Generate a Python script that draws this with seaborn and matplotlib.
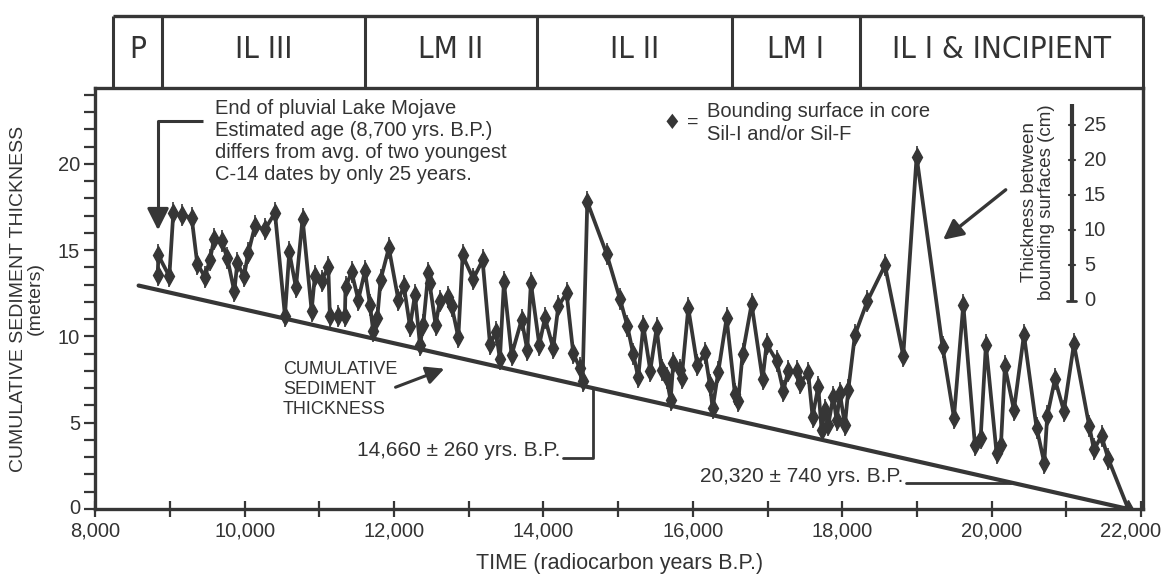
import numpy as np
import pandas as pd
import matplotlib
matplotlib.use("Agg")
import matplotlib.pyplot as plt
import seaborn as sns
from matplotlib.ticker import MultipleLocator, FuncFormatter
import matplotlib.transforms as mtransforms

# ---------------- data ----------------
years = [8835, 8845, 8991, 9044, 9156, 9290, 9365, 9468, 9535, 9589, 9691, 9767, 9861, 9901, 9990,
         10048, 10137, 10271, 10405, 10539, 10597, 10686, 10775, 10896, 10940, 11030, 11119, 11141,
         11244, 11342, 11350, 11431, 11521, 11610, 11677, 11721, 11775, 11820, 11930, 12057, 12132,
         12213, 12280, 12347, 12391, 12458, 12475, 12556, 12614, 12726, 12770, 12860, 12918, 13060,
         13185, 13284, 13364, 13417, 13471, 13574, 13708, 13783, 13832, 13944, 14020, 14131, 14198,
         14310, 14399, 14488, 14524, 14587, 14845, 15024, 15122, 15202, 15269, 15337, 15430, 15515,
         15582, 15649, 15702, 15738, 15827, 15850, 15939, 16059, 16162, 16229, 16265, 16341, 16452,
         16564, 16608, 16666, 16787, 16934, 16988, 17121, 17211, 17278, 17389, 17434, 17545, 17603,
         17679, 17724, 17768, 17813, 17880, 17925, 17969, 18036, 18081, 18170, 18335, 18572, 18817,
         18996, 19344, 19496, 19621, 19777, 19853, 19924, 20067, 20125, 20178, 20299, 20433, 20602,
         20705, 20745, 20848, 20968, 21102, 21307, 21370, 21472, 21562, 21830]
thickness = [13.54, 14.70, 13.48, 17.13, 17.03, 16.89, 14.22, 13.44, 14.45, 15.62, 15.52, 14.55, 12.61,
             14.26, 13.48, 14.84, 16.39, 16.20, 17.17, 11.21, 14.89, 12.85, 16.83, 11.50, 13.53, 13.24,
             14.02, 11.21, 11.21, 11.21, 12.85, 13.73, 12.13, 13.78, 11.84, 10.29, 11.06, 13.29, 15.13,
             12.13, 12.90, 10.58, 12.42, 9.51, 10.68, 13.68, 13.10, 10.68, 12.08, 12.28, 11.79, 9.95,
             14.70, 13.34, 14.41, 9.56, 10.24, 8.69, 13.15, 8.93, 10.97, 9.23, 13.10, 9.52, 11.07, 9.32,
             11.74, 12.52, 9.03, 8.16, 7.43, 17.80, 14.80, 12.18, 10.63, 8.98, 7.63, 10.63, 8.02, 10.48,
             8.06, 7.57, 6.31, 8.44, 8.06, 7.57, 11.64, 8.35, 9.02, 7.18, 5.83, 7.96, 11.06, 6.65, 6.26,
             8.98, 11.88, 7.52, 9.56, 8.59, 6.85, 8.01, 8.01, 7.33, 7.87, 5.35, 7.09, 4.57, 5.73, 4.86,
             6.51, 5.15, 6.70, 4.86, 6.90, 10.09, 12.03, 14.12, 8.88, 20.42, 9.37, 5.30, 11.84, 3.70,
             4.09, 9.52, 3.22, 3.70, 8.26, 5.74, 10.10, 4.71, 2.68, 5.39, 7.52, 5.68, 9.56, 4.81, 3.45,
             4.23, 2.91, 0.0]

cum_years = [8580, 21830]
cum_thickness = [12.95, 0.0]

stage_names = ["P", "IL III", "LM II", "IL II", "LM I", "IL I & INCIPIENT"]
stage_edges = [8240, 8890, 11610, 13910, 16520, 18240, 22027]

scale_ticks_cm = [0, 5, 10, 15, 20, 25]

# ---------------- style ----------------
sns.set_theme(style="white")
plt.rcParams['font.family'] = ['Liberation Sans', 'DejaVu Sans']
INK = '#363636'
TXT = '#333333'

W, H = 1169, 580
fig = plt.figure(figsize=(W / 100, H / 100), dpi=100)
fig.patch.set_facecolor('white')

x0, x1 = 95.3, 1143
y_bot, y_top = 509, 88
ax = fig.add_axes([x0 / W, 1 - y_bot / H, (x1 - x0) / W, (y_bot - y_top) / H])
ax.set_xlim(8000, 22027)
ax.set_ylim(0, 24.4)

df = pd.DataFrame({"year": years, "thickness": thickness})
cdf = pd.DataFrame({"year": cum_years, "thickness": cum_thickness})

# cumulative straight line
sns.lineplot(data=cdf, x="year", y="thickness", ax=ax, color=INK, lw=3.0, sort=False,
             estimator=None, legend=False)
# bounding-surface series
sns.lineplot(data=df, x="year", y="thickness", ax=ax, color=INK, lw=2.7, sort=False,
             estimator=None, legend=False, marker='d', markersize=9,
             markeredgecolor=INK, markerfacecolor=INK, markeredgewidth=1)
ax.plot(df["year"][:-1], df["thickness"][:-1], ls='none', marker='|', ms=16, mew=1.2, color=INK)

# axes styling
for s in ax.spines.values():
    s.set_color(INK)
    s.set_linewidth(2.4)
ax.xaxis.set_major_locator(MultipleLocator(2000))
ax.xaxis.set_minor_locator(MultipleLocator(1000))
ax.xaxis.set_major_formatter(FuncFormatter(lambda v, p: f"{int(v):,}"))
ax.yaxis.set_major_locator(MultipleLocator(5))
ax.yaxis.set_minor_locator(MultipleLocator(1))
ax.tick_params(axis='x', which='both', direction='inout', length=12, width=1.6, colors=INK,
               labelcolor=TXT, labelsize=14.5, pad=3, bottom=True)
ax.tick_params(axis='y', which='both', direction='out', length=8, width=1.6, colors=INK,
               labelcolor=TXT, labelsize=14.5, pad=3, left=True)
ax.set_xlabel("TIME (radiocarbon years B.P.)", fontsize=15.5, color=TXT, labelpad=9)
ax.set_ylabel("CUMULATIVE SEDIMENT THICKNESS\n(meters)", fontsize=14, color=TXT,
              labelpad=10, linespacing=1.0)
fig.canvas.draw()
for lab in ax.get_xticklabels():
    if lab.get_text() == "22,000":
        lab.set_transform(lab.get_transform() +
                          mtransforms.ScaledTranslation(-10 / 100, 0, fig.dpi_scale_trans))
for lab in ax.get_yticklabels():
    if lab.get_text() == "0":
        lab.set_transform(lab.get_transform() +
                          mtransforms.ScaledTranslation(0, 3 / 100, fig.dpi_scale_trans))

# ---------------- header band ----------------
hy0, hy1 = 88, 16
axh = fig.add_axes([x0 / W, 1 - hy0 / H, (x1 - x0) / W, (hy0 - hy1) / H])
axh.set_xlim(ax.get_xlim())
axh.set_ylim(0, 1)
axh.axis('off')
axh.vlines(stage_edges, 0, 1, colors=INK, lw=2.2, clip_on=False)
axh.hlines(1, stage_edges[0], stage_edges[-1], colors=INK, lw=2.4, clip_on=False)
for name, a, b in zip(stage_names, stage_edges[:-1], stage_edges[1:]):
    axh.text((a + b) / 2, 0.54, name, ha='center', va='center', fontsize=22.5, color=TXT,
             family=['DejaVu Sans'], fontstretch='condensed')

# ---------------- annotations ----------------
note_lines = ["End of pluvial Lake Mojave", "Estimated age (8,700 yrs. B.P.)",
              "differs from avg. of two youngest", "C-14 dates by only 25 years."]
for i, t in enumerate(note_lines):
    ax.text(9602, 23.2 - i * 1.27, t, ha='left', va='center', fontsize=14.5, color=TXT)
# bracket arrow to first point
ax.plot([9442, 8840, 8840], [22.5, 22.5, 17.2], color=INK, lw=2.2, solid_capstyle='butt')
ax.annotate("", xy=(8840, 16.0), xytext=(8840, 17.4),
            arrowprops=dict(arrowstyle='-|>,head_length=1.1,head_width=0.55', color=INK, lw=2.2))

# legend for diamonds
ax.text(15719, 22.4, "\u2666", ha='center', va='center', fontsize=15, color=INK,
        family=['DejaVu Sans'])
ax.text(16001, 22.4, "=", ha='center', va='center', fontsize=14, color=TXT)
ax.text(16189, 23.06, "Bounding surface in core", ha='left', va='center', fontsize=14.5, color=TXT)
ax.text(16189, 21.72, "Sil-I and/or Sil-F", ha='left', va='center', fontsize=14.5, color=TXT)

# cumulative label + arrow
for i, t in enumerate(["CUMULATIVE", "SEDIMENT", "THICKNESS"]):
    ax.text(10513, 8.1 - i * 1.18, t, ha='left', va='center', fontsize=13, color=TXT)
ax.annotate("", xy=(12708, 8.19), xytext=(11985, 7.0),
            arrowprops=dict(arrowstyle='-|>,head_length=0.9,head_width=0.45', color=INK, lw=2.2))

# date brackets on the cumulative line
def cum_at(x):
    return float(np.interp(x, cum_years, cum_thickness))

d1 = 14660
ax.plot([d1, d1, 14261], [cum_at(d1), 2.95, 2.95], color=INK, lw=2.0)
ax.text(14230, 3.40, "14,660 \u00b1 260 yrs. B.P.", ha='right', va='center', fontsize=15, color=TXT)
d2 = 20260
ax.plot([18850, d2], [cum_at(d2), cum_at(d2)], color=INK, lw=2.0)
ax.text(18820, cum_at(d2) + 0.35, "20,320 \u00b1 740 yrs. B.P.", ha='right', va='center',
        fontsize=15, color=TXT)

# thickness scale (cm) drawn inside the plot
scale_x = 21075
scale_base = 12.08
m_per_cm = 0.407
ax.plot([scale_x, scale_x], [scale_base, scale_base + 28 * m_per_cm], color=INK, lw=3, solid_capstyle='butt')
ax.plot([scale_x - 60, scale_x + 60], [scale_base, scale_base], color=INK, lw=2)
for c in scale_ticks_cm:
    yy = scale_base + c * m_per_cm
    if c > 0:
        ax.plot([scale_x - 35, scale_x + 35], [yy, yy], color=INK, lw=1.6)
    ax.text(scale_x + 160, yy, str(c), ha='left', va='center', fontsize=14.5, color=TXT)
ax.text(20620, 17.8, "Thickness between\nbounding surfaces (cm)", rotation=90, ha='center',
        va='center', fontsize=13.5, color=TXT, linespacing=1.05)
ax.annotate("", xy=(19321, 15.5), xytext=(20218, 18.6),
            arrowprops=dict(arrowstyle='-|>,head_length=1.0,head_width=0.5', color=INK, lw=2.4))

fig.savefig("out.png", dpi=100, facecolor='white')
